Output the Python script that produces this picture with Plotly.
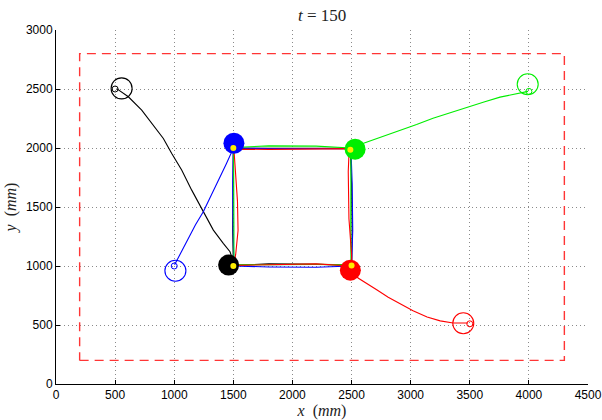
import plotly.graph_objects as go

# ---- data (mm) ----
robot_names = ["black", "blue", "green", "red"]
robot_colors = ["#000000", "#0000ff", "#00ee00", "#ff0000"]

# reference start points (small circles) and initial robot poses (large open circles)
start_ref_x = [500, 1000, 4000, 3500]
start_ref_y = [2500, 1000, 2480, 510]
start_bot_x = [555, 1010, 3990, 3445]
start_bot_y = [2505, 960, 2540, 515]

# current robot positions (filled) and current targets (yellow)
cur_bot_x = [1460, 1505, 2530, 2490]
cur_bot_y = [1008, 2040, 1990, 965]
target_x = [1500, 1500, 2490, 2500]
target_y = [1000, 2000, 1985, 1005]

# trajectories
black_x = [513, 612, 725, 823, 908, 979, 1063, 1148, 1246, 1331, 1415, 1472, 1495, 1500,
           1495, 1495, 1500, 1800, 2200, 2490, 2500, 2505, 2500, 2200, 1800, 1505]
black_y = [2503, 2434, 2321, 2194, 2081, 1954, 1813, 1643, 1459, 1304, 1192, 1121, 1050, 1000,
           1300, 1700, 1998, 1998, 1997, 1998, 1700, 1300, 1005, 1015, 1018, 1005]
blue_x = [1003, 1060, 1120, 1180, 1246, 1310, 1375, 1440, 1497, 1500,
          1800, 2200, 2495, 2505, 2510, 2500, 2200, 1800, 1505, 1498, 1495, 1500]
blue_y = [1010, 1120, 1240, 1350, 1459, 1590, 1730, 1865, 1990, 2000,
          1995, 1994, 1995, 1700, 1300, 1000, 990, 992, 1000, 1300, 1700, 2000]
green_x = [3993, 3900, 3756, 3620, 3477, 3330, 3189, 3050, 2910, 2760, 2614, 2530, 2495,
           2492, 2493, 2495, 2200, 1800, 1505, 1505, 1506, 1502, 1800, 2200, 2495]
green_y = [2480, 2462, 2431, 2390, 2346, 2300, 2253, 2200, 2151, 2100, 2050, 2015, 1995,
           1700, 1300, 1010, 1014, 1012, 1010, 1300, 1700, 2005, 2018, 2016, 2000]
red_x = [3486, 3420, 3359, 3250, 3139, 3020, 2910, 2810, 2716, 2630, 2555, 2520, 2500,
         2200, 1800, 1505, 1520, 1540, 1535, 1515, 1505, 1800, 2200, 2480, 2472, 2478, 2500, 2503]
red_y = [517, 517, 517, 535, 568, 620, 678, 735, 796, 850, 898, 950, 1000,
         1018, 1012, 1005, 1100, 1300, 1550, 1800, 1990, 1988, 1993, 1995, 1800, 1400, 1100, 1005]
traj_x = [black_x, blue_x, green_x, red_x]
traj_y = [black_y, blue_y, green_y, red_y]

# workspace boundary (dashed red rectangle)
bound_x = [200, 4300, 4300, 200, 200]
bound_y = [200, 200, 2800, 2800, 200]

x_ticks = [0, 500, 1000, 1500, 2000, 2500, 3000, 3500, 4000, 4500]
y_ticks = [0, 500, 1000, 1500, 2000, 2500, 3000]

fig = go.Figure()

fig.add_trace(go.Scatter(x=bound_x, y=bound_y, mode="lines",
                         line=dict(color="#ff3535", width=1.4, dash="9px,6px"),
                         hoverinfo="skip"))

for i in range(4):
    fig.add_trace(go.Scatter(x=traj_x[i], y=traj_y[i], mode="lines",
                             line=dict(color=robot_colors[i], width=1.1)))

for i in range(4):
    fig.add_trace(go.Scatter(x=[start_bot_x[i]], y=[start_bot_y[i]], mode="markers",
                             marker=dict(size=21, symbol="circle-open",
                                         color=robot_colors[i], line=dict(width=1.1))))
    fig.add_trace(go.Scatter(x=[start_ref_x[i]], y=[start_ref_y[i]], mode="markers",
                             marker=dict(size=6, symbol="circle-open",
                                         color=robot_colors[i], line=dict(width=1))))

for i in range(4):
    fig.add_trace(go.Scatter(x=[cur_bot_x[i]], y=[cur_bot_y[i]], mode="markers",
                             marker=dict(size=21, color=robot_colors[i], line=dict(width=0))))
fig.add_trace(go.Scatter(x=target_x, y=target_y, mode="markers",
                         marker=dict(size=6, color="#ffee00", line=dict(width=0))))

axis_common = dict(
    showgrid=True, gridcolor="#8a8a8a", gridwidth=1, griddash="1px,3px",
    showline=True, linecolor="black", linewidth=1,
    ticks="inside", ticklen=4, tickcolor="black",
    tickfont=dict(family="Liberation Sans, Arial", size=12, color="black"),
    zeroline=False, mirror=False, automargin=False,
)

fig.update_layout(
    width=602, height=420,
    margin=dict(l=56, r=14, t=30, b=36),
    paper_bgcolor="white", plot_bgcolor="white",
    showlegend=False,
    title=dict(text="<i>t</i> = 150", x=0.535, xanchor="center", y=0.978, yanchor="top",
               font=dict(family="Liberation Serif, Times New Roman, serif", size=17, color="#222")),
    xaxis=dict(range=[0, 4500], tickvals=x_ticks, **axis_common,
               title=dict(text="<i>x</i>  (<i>mm</i>)", standoff=1,
                          font=dict(family="Liberation Serif, serif", size=16, color="#222"))),
    yaxis=dict(range=[0, 3000], tickvals=y_ticks, **axis_common,
               title=dict(text="<i>y</i>  (<i>mm</i>)", standoff=5,
                          font=dict(family="Liberation Serif, serif", size=16, color="#222"))),
)

fig.write_html("out.html")
